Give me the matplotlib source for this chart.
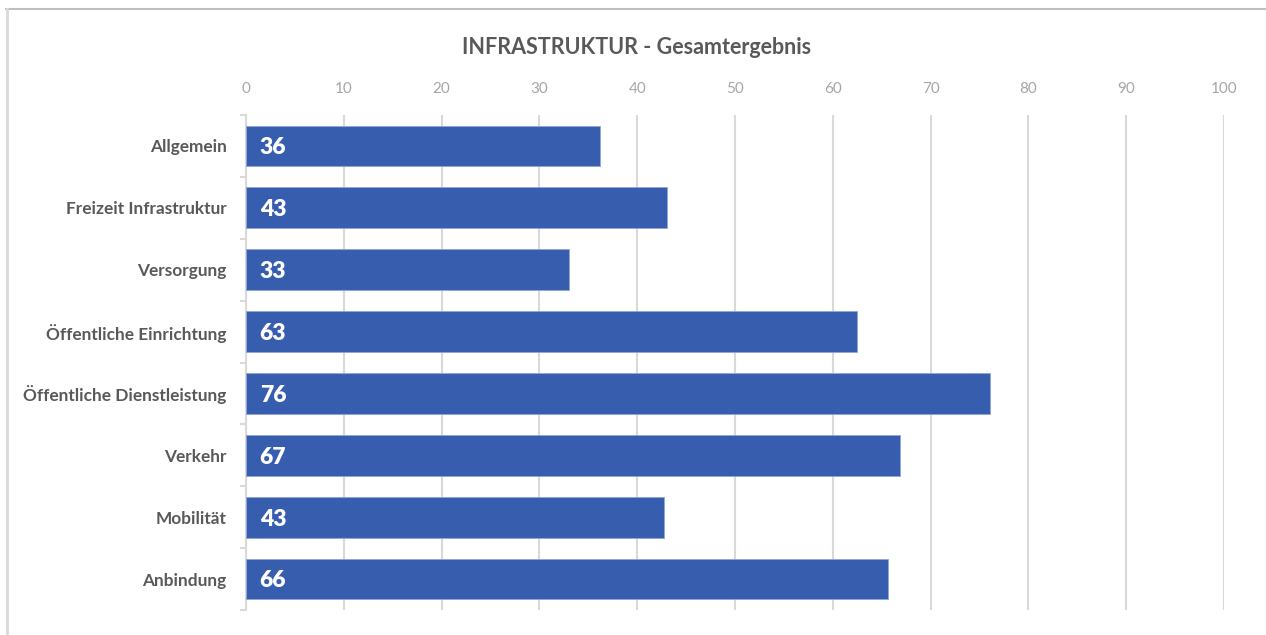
import numpy as np
import matplotlib
matplotlib.use("Agg")
import matplotlib.pyplot as plt
from matplotlib.lines import Line2D

# data
categories = ["Allgemein", "Freizeit Infrastruktur", "Versorgung",
              "Öffentliche Einrichtung", "Öffentliche Dienstleistung",
              "Verkehr", "Mobilität", "Anbindung"]
values = [36.2, 43.0, 33.0, 62.5, 76.1, 66.9, 42.7, 65.6]
labels = ["36", "43", "33", "63", "76", "67", "43", "66"]
xticks = list(range(0, 101, 10))

BLUE = "#375DAE"
GRID = "#D9D9D9"

plt.rcParams["font.family"] = ["Lato", "DejaVu Sans"]

fig = plt.figure(figsize=(12.66, 6.35), dpi=100)
ax = fig.add_axes([246 / 1266, 1 - 610 / 635, (1224 - 246) / 1266, (610 - 115) / 635])

y = np.arange(len(categories))
ax.barh(y, values, height=0.66, color=BLUE, edgecolor="#8FA6D8", linewidth=0.6, zorder=3)
for yi, lab in zip(y, labels):
    ax.text(1.4, yi + 0.03, lab, color="white", fontsize=16.5, fontweight="heavy",
            va="center", ha="left", zorder=4)

ax.set_xlim(0, 100)
ax.set_ylim(len(categories) - 0.5, -0.5)
ax.set_xticks(xticks)
ax.xaxis.tick_top()
ax.tick_params(axis="x", length=0, pad=14, labelsize=11, labelcolor="#A6A6A6")
ax.set_yticks(y)
ax.set_yticklabels(categories, fontsize=12.4, fontweight="bold", color="#595959")
ax.tick_params(axis="y", length=0, pad=14)
# small bracket ticks at the category boundaries
ax.set_yticks(np.arange(-0.5, len(categories), 1), minor=True)
ax.tick_params(axis="y", which="minor", length=4, color=GRID, width=1.5, direction="out")

ax.grid(axis="x", color=GRID, lw=1.5, zorder=0)
for s in ["top", "right", "bottom"]:
    ax.spines[s].set_visible(False)
ax.spines["left"].set_color(GRID)
ax.spines["left"].set_linewidth(1.5)

fig.text(637 / 1266, 1 - 47 / 635, "INFRASTRUKTUR - Gesamtergebnis",
         ha="center", va="center", fontsize=15.5, fontweight="bold", color="#595959")

# outer frame (top and left only visible)
fig.add_artist(Line2D([6 / 1266, 1], [1 - 9 / 635, 1 - 9 / 635], color="#BFBFBF", lw=1.5))
fig.add_artist(Line2D([7 / 1266, 7 / 1266], [0, 1 - 9 / 635], color="#D9D9D9", lw=2))

fig.savefig("out.png", dpi=100)
